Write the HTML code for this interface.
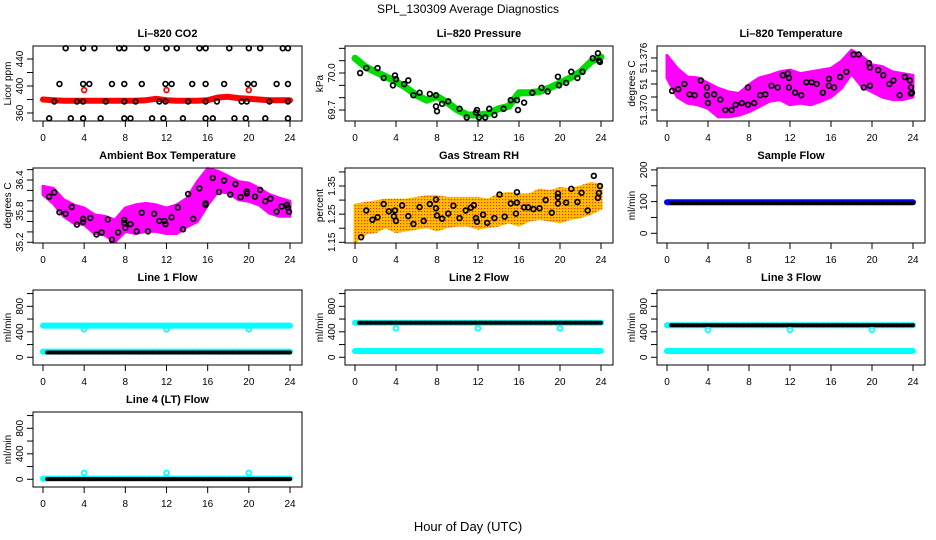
<!DOCTYPE html>
<html><head><meta charset="utf-8"><style>
html,body{margin:0;padding:0;background:#fff}
svg{display:block;font-family:"Liberation Sans",sans-serif}
</style></head><body>
<svg id="chart" width="936" height="540" viewBox="0 0 936 540">
<defs>
<pattern id="rhpat" width="3" height="3" patternUnits="userSpaceOnUse">
<rect width="3" height="3" fill="#ffc000"/><rect x="1" y="1" width="1.2" height="1.2" fill="#ff2a00"/>
</pattern>
</defs>
<text x="468" y="13" text-anchor="middle" font-size="12">SPL_130309  Average Diagnostics</text>
<text x="468" y="531" text-anchor="middle" font-size="13">Hour of Day (UTC)</text>
</svg>
<script>
// ---------- data ----------
const hours = [0,1,2,3,4,5,6,7,8,9,10,11,12,13,14,15,16,17,18,19,20,21,22,23,24];
const xTicks = [0,4,8,12,16,20,24];

// CO2
const co2Red = [380,379,378,378,378,378,378,378,378,378,379,381,379,378,378,378,379,383,384,382,381,380,379,379,379];
const co2RedPtsH = [4,12,20];
const co2RedPtsV = [394,394,394];
const co2BlkH = [2.2,3.9,5.0,7.4,7.9,10.1,12,13,15.2,15.8,18.1,20,21.1,23.3,23.8,
 1.6,3.9,4.5,6.7,7.9,9.6,11.9,12.5,14.5,15.8,17.6,19.9,20.5,22.7,23.8,
 1.1,3.3,3.9,6.1,7.9,9.0,11.3,11.9,14.1,15.8,16.9,19.3,19.8,22.0,23.8,
 0.6,2.7,3.9,5.6,7.9,8.5,10.6,11.7,13.6,15.8,16.5,18.6,19.7,21.6,23.8];
const co2BlkV = [456,456,456,456,456,456,456,456,456,456,456,456,456,456,456,
 403,403,403,403,403,403,403,403,403,403,403,403,403,403,403,
 377,377,377,377,377,377,377,377,377,377,377,377,377,377,377,
 352,352,352,352,352,352,352,352,352,352,352,352,352,352,352];

// Pressure
const presGreen = [70.12,70.05,70.01,69.97,69.93,69.88,69.82,69.78,69.81,69.76,69.70,69.66,69.66,69.67,69.71,69.73,69.84,69.84,69.85,69.88,69.92,69.96,70.01,70.09,70.13];
const presBlkH = [0.5,1.1,2.2,2.8,3.7,3.9,4.0,4.8,5.2,5.7,6.3,7.3,7.9,7.9,8.0,8.5,9.1,10.2,10.9,11.8,11.9,12.1,12.7,13.1,13.6,14.5,15.2,15.8,15.9,16.5,17.3,18.2,18.8,19.8,19.9,20.6,21.1,21.7,22.2,23.2,23.7,23.8,23.9];
const presBlkV = [70.0,70.04,70.04,69.96,69.9,69.98,69.95,69.91,69.94,69.82,69.84,69.83,69.82,69.73,69.69,69.75,69.77,69.71,69.64,69.68,69.7,69.64,69.64,69.71,69.66,69.71,69.78,69.78,69.7,69.76,69.84,69.88,69.85,69.97,69.9,69.92,70.01,69.96,70.01,70.12,70.16,70.1,70.09];

// Li-820 temperature
const tempHi = [51.3763,51.3748,51.3738,51.3737,51.3731,51.3725,51.3721,51.3719,51.3729,51.3737,51.3740,51.3744,51.3746,51.3742,51.3744,51.3746,51.3748,51.3756,51.3769,51.3762,51.3752,51.3750,51.3744,51.3742,51.3740];
const tempLo = [51.3737,51.3715,51.3708,51.3706,51.3702,51.3692,51.3692,51.3694,51.3698,51.3704,51.3710,51.3712,51.3706,51.3708,51.3706,51.3710,51.3715,51.3725,51.3742,51.3727,51.3721,51.3715,51.3712,51.3712,51.3715];
const tempBlkH = [0.5,1.1,1.7,2.2,2.7,3.3,3.9,3.9,4.0,4.6,5.2,5.7,6.3,6.7,7.3,7.9,7.9,8.5,9.1,9.6,10.2,10.8,11.3,11.8,11.9,11.9,12.5,13.1,13.6,14.1,14.6,15.2,15.8,15.8,16.3,16.9,17.5,18.2,18.7,19.2,19.7,19.8,19.8,20.6,21.1,21.7,22.1,22.7,23.2,23.7,23.8,23.8,23.9];
const tempBlkV = [51.3722,51.3724,51.3730,51.3718,51.3717,51.3734,51.3726,51.3717,51.3708,51.3718,51.3712,51.3700,51.3700,51.3706,51.3708,51.3706,51.3726,51.3708,51.3717,51.3718,51.3728,51.3726,51.3740,51.3742,51.3737,51.3726,51.3720,51.3717,51.3732,51.3732,51.3730,51.3720,51.3736,51.3728,51.3726,51.3738,51.3744,51.3764,51.3764,51.3726,51.3754,51.3749,51.3728,51.3746,51.3740,51.3730,51.3734,51.3717,51.3738,51.3734,51.3726,51.3719,51.3720];

// Ambient box temperature
const ambHi = [36.28,36.24,36.02,35.92,35.86,35.73,35.70,35.63,35.86,35.92,35.95,35.92,35.86,35.92,36.05,36.37,36.62,36.57,36.47,36.37,36.34,36.24,36.12,36.05,35.99];
const ambLo = [36.12,35.95,35.70,35.57,35.54,35.37,35.34,35.21,35.41,35.37,35.41,35.41,35.37,35.37,35.50,35.60,35.92,36.18,36.15,36.02,35.99,35.92,35.76,35.70,35.70];
const ambBlkH = [0.6,1.1,1.6,2.2,2.8,3.3,3.9,3.9,4.6,5.2,5.7,6.3,6.7,7.3,7.9,7.9,8.0,8.5,9.1,9.6,10.2,10.8,11.3,11.8,11.9,12.5,13.1,13.6,14.1,14.6,15.2,15.8,15.8,16.5,17.1,17.6,18.2,18.7,19.2,19.8,19.8,20.6,21.1,21.6,22.1,22.7,23.2,23.7,23.8,23.9];
const ambBlkV = [36.08,36.16,35.78,35.75,35.88,35.54,35.65,35.59,35.67,35.35,35.39,35.64,35.25,35.39,35.63,35.57,35.48,35.55,35.41,35.77,35.41,35.75,35.61,35.61,35.55,35.68,35.87,35.45,36.13,35.65,36.24,35.95,35.92,36.44,36.17,36.39,36.12,36.32,36.07,36.18,36.14,36.08,36.21,35.99,36.04,35.79,35.89,35.92,35.87,35.79];

// Gas stream RH
const rhHi = [1.282,1.288,1.294,1.300,1.300,1.300,1.306,1.312,1.312,1.306,1.306,1.306,1.306,1.300,1.318,1.324,1.318,1.318,1.336,1.330,1.341,1.336,1.347,1.359,1.353];
const rhLo = [1.152,1.182,1.188,1.206,1.188,1.194,1.200,1.206,1.194,1.206,1.211,1.211,1.200,1.206,1.211,1.223,1.211,1.229,1.235,1.229,1.223,1.235,1.241,1.253,1.271];
const rhBlkH = [0.6,1.1,1.7,2.2,2.8,3.3,3.8,3.9,4.0,4.6,5.2,5.7,6.3,6.7,7.3,7.9,7.9,8.0,8.5,9.1,9.6,10.2,10.8,11.3,11.6,11.8,11.9,12.5,12.9,13.6,14.1,14.6,15.2,15.7,15.8,15.8,16.5,16.9,17.4,18.0,18.6,19.2,19.8,19.8,19.8,20.6,21.1,21.7,22.1,22.7,23.3,23.7,23.8,23.9];
const rhBlkV = [1.168,1.263,1.230,1.239,1.286,1.260,1.242,1.263,1.226,1.281,1.243,1.215,1.275,1.226,1.286,1.302,1.271,1.245,1.234,1.252,1.280,1.236,1.263,1.273,1.282,1.236,1.223,1.248,1.219,1.236,1.320,1.241,1.288,1.252,1.328,1.291,1.274,1.274,1.268,1.271,1.300,1.255,1.323,1.310,1.288,1.291,1.340,1.293,1.326,1.263,1.386,1.308,1.325,1.350];

// Flows
const sampleBlue = [98, 98];
const sampleBlack = [95, 95];
const line1Upper = [497, 497];
const line1Lower = [89, 89];
const line1Black = [75, 75];
const line1DipV = [439, 439, 439];
const line2Black = [543, 543];
const line2Lower = [99, 99];
const line2DipV = [455, 455, 455];
const line3Black = [502, 502];
const line3Lower = [99, 99];
const line3DipV = [429, 429, 429];
const line4Cyan = [10, 10];
const line4Black = [5, 5];
const line4DipV = [100, 100, 100];
const dipH = [4, 12, 20];
const flowSpanH = [0, 24];
const blackSpanH = [0.4, 24];

// ---------- drawing ----------
const svg = document.getElementById('chart');
const NS = 'http://www.w3.org/2000/svg';
const colX0 = [43, 355, 667], colX24 = [290, 601, 913];
const rowTop = [46, 168, 290, 412], PH = 75;

function mk(parent, tag, attrs, name) {
  const el = document.createElementNS(NS, tag);
  for (const k in attrs) el.setAttribute(k, attrs[k]);
  
  
  parent.appendChild(el);
  return el;
}

function panel(cfg) {
  const g = mk(svg, 'g', {}, cfg.name);
  const x0 = colX0[cfg.col], x24 = colX24[cfg.col];
  const top = rowTop[cfg.row], bot = top + PH;
  const left = x0 - 10, right = x24 + 12;
  const xs = h => x0 + h * (x24 - x0) / 24;
  const ys = v => bot - (v - cfg.ylim[0]) / (cfg.ylim[1] - cfg.ylim[0]) * PH;
  const t = mk(g, 'text', {x: (left + right) / 2, y: top - 9, 'text-anchor': 'middle', 'font-size': 11, 'font-weight': 'bold'}, 'panel-title');
  t.textContent = cfg.title;
  const yl = mk(g, 'text', {transform: `translate(${left - 22},${(top + bot) / 2}) rotate(-90)`, 'text-anchor': 'middle', 'font-size': 10}, 'y-axis-title');
  yl.textContent = cfg.ylab;
  mk(g, 'line', {x1: xs(0), x2: xs(24), y1: bot, y2: bot, stroke: '#000'}, 'x-axis-line');
  xTicks.forEach(h => {
    mk(g, 'line', {x1: xs(h), x2: xs(h), y1: bot, y2: bot + 6, stroke: '#000'}, 'x-tick');
    const tx = mk(g, 'text', {x: xs(h), y: bot + 20, 'text-anchor': 'middle', 'font-size': 10}, 'x-tick-label');
    tx.textContent = h;
  });
  cfg.yticks.forEach(v => {
    mk(g, 'line', {x1: left - 6, x2: left, y1: ys(v), y2: ys(v), stroke: '#000'}, 'y-tick');
  });
  mk(g, 'line', {x1: left, x2: left, y1: ys(cfg.yticks[0]), y2: ys(cfg.yticks[cfg.yticks.length - 1]), stroke: '#000'}, 'y-axis-line');
  cfg.ylabels.forEach((v, i) => {
    const ty = mk(g, 'text', {transform: `translate(${left - 10},${ys(v)}) rotate(-90)`, 'text-anchor': 'middle', 'font-size': 10}, 'y-tick-label');
    ty.textContent = cfg.ylabelText ? cfg.ylabelText[i] : v;
  });
  const plot = mk(g, 'g', {}, 'plot-area');
  cfg.draw(plot, xs, ys);
  mk(g, 'rect', {x: left, y: top, width: right - left, height: PH, fill: 'none', stroke: '#000'}, 'plot-box');
}

function pts(p, xs, ys, H, V, color, name) {
  H.forEach((h, i) => {
    mk(p, 'circle', {cx: xs(h), cy: ys(V[i]), r: 2.4, fill: 'none', stroke: color, 'stroke-width': 1.7}, name);
  });
}
function band(p, xs, ys, lo, hi, fill, name) {
  let d = hours.map((h, i) => (i ? 'L' : 'M') + xs(h).toFixed(1) + ',' + ys(hi[i]).toFixed(1)).join('');
  for (let i = hours.length - 1; i >= 0; i--) d += 'L' + xs(hours[i]).toFixed(1) + ',' + ys(lo[i]).toFixed(1);
  mk(p, 'path', {d: d + 'Z', fill: fill, stroke: fill, 'stroke-width': 3, 'stroke-linejoin': 'round'}, name);
}
function curve(p, xs, ys, vals, color, w, name) {
  const d = hours.map((h, i) => (i ? 'L' : 'M') + xs(h).toFixed(1) + ',' + ys(vals[i]).toFixed(1)).join('');
  mk(p, 'path', {d: d, fill: 'none', stroke: color, 'stroke-width': w, 'stroke-linecap': 'round', 'stroke-linejoin': 'round'}, name);
}
function flat(p, xs, ys, span, lvl, color, w, dash, name) {
  const a = {x1: xs(span[0]), x2: xs(span[1]), y1: ys(lvl[0]), y2: ys(lvl[1]), stroke: color, 'stroke-width': w, 'stroke-linecap': 'round'};
  if (dash) a['stroke-dasharray'] = dash;
  mk(p, 'line', a, name);
}

const flowTicks = [0, 200, 400, 600, 800, 1000];
const flowLabels = [0, 400, 800];
const flowLim = [-121, 1056];

panel({name: 'panel-co2', col: 0, row: 0, title: 'Li\u2013820 CO2', ylab: 'Licor ppm', ylim: [348.1, 459.3],
  yticks: [360, 380, 400, 420, 440], ylabels: [360, 400, 440],
  draw: (p, xs, ys) => {
    curve(p, xs, ys, co2Red, '#ff0000', 6, 'co2-red-series');
    pts(p, xs, ys, co2RedPtsH, co2RedPtsV, '#ff0000', 'co2-red-point');
    pts(p, xs, ys, co2BlkH, co2BlkV, '#000', 'co2-black-point');
  }});
panel({name: 'panel-pressure', col: 1, row: 0, title: 'Li\u2013820 Pressure', ylab: 'kPa', ylim: [69.611, 70.219],
  yticks: [69.7, 69.8, 69.9, 70.0, 70.1, 70.2], ylabels: [69.7, 70.0], ylabelText: ['69.7', '70.0'],
  draw: (p, xs, ys) => {
    curve(p, xs, ys, presGreen, '#00dd00', 7, 'pressure-green-series');
    pts(p, xs, ys, presBlkH, presBlkV, '#000', 'pressure-black-point');
  }});
panel({name: 'panel-li820-temp', col: 2, row: 0, title: 'Li\u2013820 Temperature', ylab: 'degrees C', ylim: [51.36873, 51.37738],
  yticks: [51.370, 51.3715, 51.373, 51.3745, 51.376], ylabels: [51.370, 51.373, 51.376], ylabelText: ['51.370', '51', '51.376'],
  draw: (p, xs, ys) => {
    band(p, xs, ys, tempLo, tempHi, '#ff00ff', 'temp-magenta-band');
    pts(p, xs, ys, tempBlkH, tempBlkV, '#000', 'temp-black-point');
  }});
panel({name: 'panel-ambient-temp', col: 0, row: 1, title: 'Ambient Box Temperature', ylab: 'degrees C', ylim: [35.186, 36.632],
  yticks: [35.2, 35.4, 35.6, 35.8, 36.0, 36.2, 36.4, 36.6], ylabels: [35.2, 35.8, 36.4],
  draw: (p, xs, ys) => {
    band(p, xs, ys, ambLo, ambHi, '#ff00ff', 'ambient-magenta-band');
    pts(p, xs, ys, ambBlkH, ambBlkV, '#000', 'ambient-black-point');
  }});
panel({name: 'panel-gas-rh', col: 1, row: 1, title: 'Gas Stream RH', ylab: 'percent', ylim: [1.1475, 1.414],
  yticks: [1.15, 1.20, 1.25, 1.30, 1.35, 1.40], ylabels: [1.15, 1.25, 1.35],
  draw: (p, xs, ys) => {
    band(p, xs, ys, rhLo, rhHi, 'url(#rhpat)', 'rh-orange-band');
    pts(p, xs, ys, rhBlkH, rhBlkV, '#000', 'rh-black-point');
  }});
panel({name: 'panel-sample-flow', col: 2, row: 1, title: 'Sample Flow', ylab: 'ml/min', ylim: [-30.6, 206],
  yticks: [0, 50, 100, 150, 200], ylabels: [0, 100, 200],
  draw: (p, xs, ys) => {
    flat(p, xs, ys, flowSpanH, sampleBlue, '#0000ff', 6, null, 'sample-blue-series');
    flat(p, xs, ys, blackSpanH, sampleBlack, '#000', 4, '3 2', 'sample-black-series');
  }});
panel({name: 'panel-line1-flow', col: 0, row: 2, title: 'Line 1 Flow', ylab: 'ml/min', ylim: flowLim,
  yticks: flowTicks, ylabels: flowLabels,
  draw: (p, xs, ys) => {
    flat(p, xs, ys, flowSpanH, line1Upper, '#00ffff', 6, null, 'line1-cyan-upper');
    flat(p, xs, ys, flowSpanH, line1Lower, '#00ffff', 6, null, 'line1-cyan-lower');
    flat(p, xs, ys, blackSpanH, line1Black, '#000', 4, '3 2', 'line1-black-series');
    pts(p, xs, ys, dipH, line1DipV, '#00ffff', 'line1-dip-point');
  }});
panel({name: 'panel-line2-flow', col: 1, row: 2, title: 'Line 2 Flow', ylab: 'ml/min', ylim: flowLim,
  yticks: flowTicks, ylabels: flowLabels,
  draw: (p, xs, ys) => {
    flat(p, xs, ys, flowSpanH, line2Lower, '#00ffff', 6, null, 'line2-cyan-lower');
    flat(p, xs, ys, flowSpanH, line2Black, '#00ffff', 6, null, 'line2-cyan-upper');
    flat(p, xs, ys, blackSpanH, line2Black, '#000', 4, '3 2', 'line2-black-series');
    pts(p, xs, ys, dipH, line2DipV, '#00ffff', 'line2-dip-point');
  }});
panel({name: 'panel-line3-flow', col: 2, row: 2, title: 'Line 3 Flow', ylab: 'ml/min', ylim: flowLim,
  yticks: flowTicks, ylabels: flowLabels,
  draw: (p, xs, ys) => {
    flat(p, xs, ys, flowSpanH, line3Lower, '#00ffff', 6, null, 'line3-cyan-lower');
    flat(p, xs, ys, flowSpanH, line3Black, '#00ffff', 6, null, 'line3-cyan-upper');
    flat(p, xs, ys, blackSpanH, line3Black, '#000', 4, '3 2', 'line3-black-series');
    pts(p, xs, ys, dipH, line3DipV, '#00ffff', 'line3-dip-point');
  }});
panel({name: 'panel-line4-flow', col: 0, row: 3, title: 'Line 4 (LT) Flow', ylab: 'ml/min', ylim: flowLim,
  yticks: flowTicks, ylabels: flowLabels,
  draw: (p, xs, ys) => {
    flat(p, xs, ys, flowSpanH, line4Cyan, '#00ffff', 6, null, 'line4-cyan-series');
    flat(p, xs, ys, blackSpanH, line4Black, '#000', 4, '3 2', 'line4-black-series');
    pts(p, xs, ys, dipH, line4DipV, '#00ffff', 'line4-dip-point');
  }});
</script>
</body></html>
